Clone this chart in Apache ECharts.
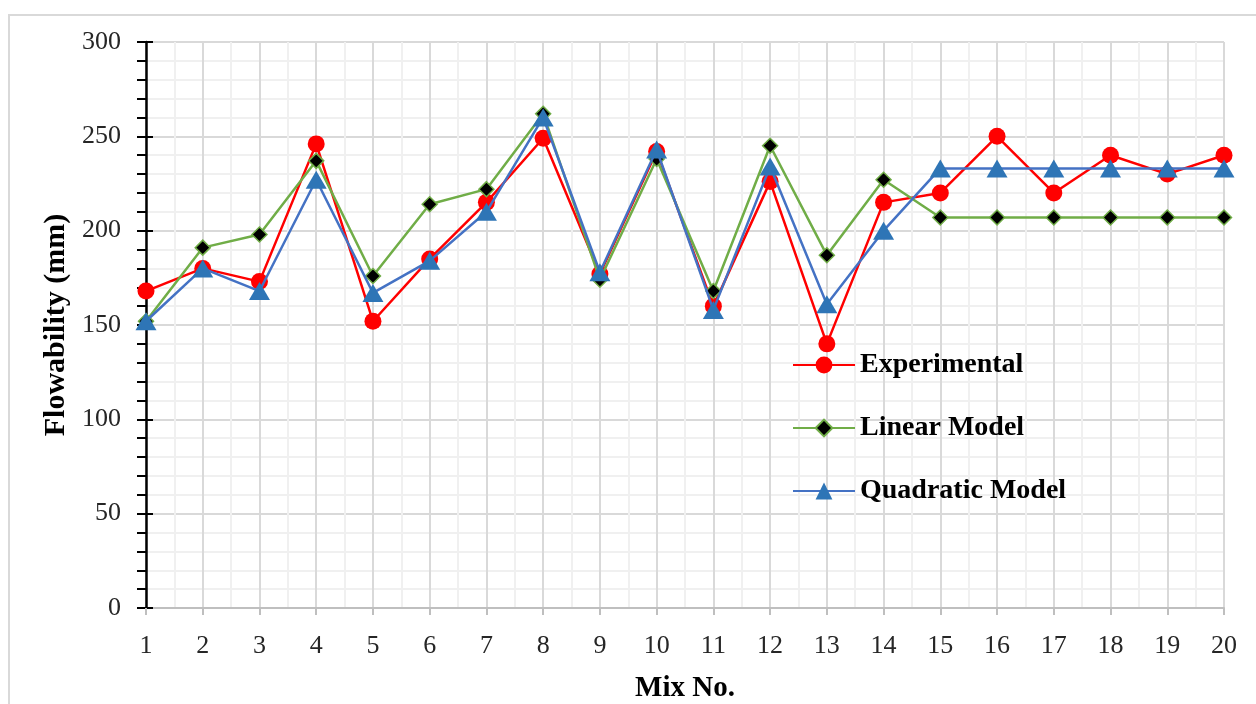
<!DOCTYPE html>
<html>
<head>
<meta charset="utf-8">
<script src="https://cdn.jsdelivr.net/npm/echarts@6/dist/echarts.min.js"></script>
<style>
html,body{margin:0;padding:0;background:#fff;}
#chart{width:1256px;height:704px;}
</style>
</head>
<body>
<div id="chart"></div>
<script>
const mixNo = [1,2,3,4,5,6,7,8,9,10,11,12,13,14,15,16,17,18,19,20];
const experimental = [168,180,173,246,152,185,215,249,177,242,160,226,140,215,220,250,220,240,230,240];
const linearModel = [152,191,198,237,176,214,222,262,174,238,168,245,187,227,207,207,207,207,207,207];
const quadraticModel = [152,180,168,227,167,184,210,260,178,243,158,234,161,200,233,233,233,233,233,233];
const yTicks = [0,50,100,150,200,250,300];

const FONT = 'Liberation Serif';
const pair = arr => mixNo.map((m,i)=>[m,arr[i]]);

const chart = echarts.init(document.getElementById('chart'));
chart.setOption({
  backgroundColor:'#ffffff',
  animation:false,
  graphic:[{
    type:'rect', shape:{x:9,y:15,width:1300,height:800},
    style:{fill:'none',stroke:'#d9d9d9',lineWidth:2}, silent:true, z:-10
  }],
  grid:{left:146,right:32,top:42,bottom:96,containLabel:false,outerBoundsMode:'none'},
  legend:{
    orient:'vertical', left:792, top:351, itemGap:35, padding:0,
    itemWidth:62, itemHeight:21,
    textStyle:{fontFamily:FONT,fontWeight:'bold',fontSize:28,color:'#000'},
    data:['Experimental','Linear Model','Quadratic Model']
  },
  xAxis:{
    type:'value', min:mixNo[0], max:mixNo[mixNo.length-1], interval:1,
    name:'Mix No.', nameLocation:'middle', nameGap:66,
    nameTextStyle:{fontFamily:FONT,fontWeight:'bold',fontSize:29,color:'#000'},
    axisLine:{show:true,onZero:false,lineStyle:{color:'#bfbfbf',width:2}},
    axisTick:{show:true,length:7,lineStyle:{color:'#bfbfbf',width:2}},
    axisLabel:{fontFamily:FONT,fontSize:26,color:'#262626',margin:25},
    splitLine:{show:true,lineStyle:{color:'#d9d9d9',width:2}},
    minorTick:{show:false,splitNumber:2},
    minorSplitLine:{show:true,lineStyle:{color:'#f0f0f0',width:2}}
  },
  yAxis:[{
    type:'value', min:yTicks[0], max:yTicks[yTicks.length-1], interval:50,
    name:'Flowability (mm)', nameLocation:'middle', nameGap:75,
    nameTextStyle:{fontFamily:FONT,fontWeight:'bold',fontSize:30,color:'#000'},
    axisLine:{show:true,lineStyle:{color:'#000',width:2.5}},
    axisTick:{show:true,length:9,lineStyle:{color:'#000',width:2}},
    minorTick:{show:true,splitNumber:5,length:9,lineStyle:{color:'#000',width:2}},
    axisLabel:{fontFamily:FONT,fontSize:26,color:'#262626',margin:25},
    splitLine:{show:true,lineStyle:{color:'#d9d9d9',width:2}},
    minorSplitLine:{show:true,lineStyle:{color:'#f0f0f0',width:2}}
  },{
    type:'value', min:yTicks[0], max:yTicks[yTicks.length-1], interval:50,
    position:'left', offset:0,
    axisLine:{show:false},
    axisTick:{show:true,inside:true,length:7,lineStyle:{color:'#000',width:2}},
    axisLabel:{show:false}, splitLine:{show:false}
  }],
  series:[{
    name:'Experimental', type:'line', data:pair(experimental),
    symbol:'circle', symbolSize:17,
    lineStyle:{color:'#ff0000',width:2.5},
    itemStyle:{color:'#ff0000'}, z:3
  },{
    name:'Linear Model', type:'line', data:pair(linearModel),
    symbol:'diamond', symbolSize:15,
    lineStyle:{color:'#70ad47',width:2.5},
    itemStyle:{color:'#000000',borderColor:'#70ad47',borderWidth:1.5}, z:4
  },{
    name:'Quadratic Model', type:'line', data:pair(quadraticModel),
    symbol:'triangle', symbolSize:[21,18],
    lineStyle:{color:'#4472c4',width:2.5},
    itemStyle:{color:'#2e75b6'}, z:5
  }]
});
</script>
</body>
</html>
